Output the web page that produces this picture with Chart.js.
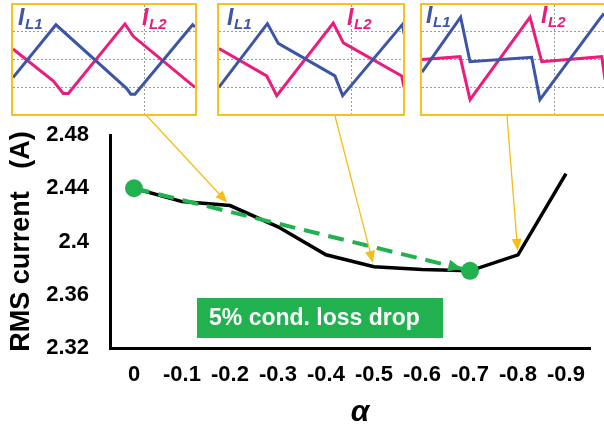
<!DOCTYPE html>
<html>
<head>
<meta charset="utf-8">
<script src="https://cdn.jsdelivr.net/npm/chart.js@4.4.1/dist/chart.umd.min.js"></script>
<style>
  html, body { margin: 0; padding: 0; background: #fff; overflow: hidden; }
  #wrap { position: relative; width: 604px; height: 430px; overflow: hidden; }
  #main { position: absolute; left: 0; top: 0; }
  .inset { position: absolute; top: 3px; height: 113px; box-sizing: border-box;
           border: 2px solid #f7c21d; background: #fff; }
  .inset canvas { display: block; }
</style>
</head>
<body>
<div id="wrap">
  <canvas id="main" width="604" height="430"></canvas>
  <div class="inset" style="left:11px;width:186px"><canvas id="w1" width="182" height="109"></canvas></div>
  <div class="inset" style="left:217px;width:188px"><canvas id="w2" width="184" height="109"></canvas></div>
  <div class="inset" style="left:420px;width:188px"><canvas id="w3" width="184" height="109"></canvas></div>
</div>
<script>
// RMS inductor current versus phase-shift ratio alpha
const alphaLabels = ['0', '-0.1', '-0.2', '-0.3', '-0.4', '-0.5', '-0.6', '-0.7', '-0.8', '-0.9'];
const rmsCurrent  = [2.440, 2.430, 2.427, 2.411, 2.390, 2.381, 2.379, 2.378, 2.390, 2.451];
const yTicks      = [2.32, 2.36, 2.40, 2.44, 2.48];
const dropFrom = 0;   // start of the highlighted reduction
const dropTo   = 7;   // end of the highlighted reduction
const dropText = '5% cond. loss drop';
const waveTargets = [2, 5, 8];   // alpha index illustrated by each waveform box

// Inductor current waveforms [time %, normalised current]
const wave1L1 = [[0,-0.64],[23.6,1.23],[62.5,-1.03],[64.7,-1.23],[67,-1.23],[98.7,1.23],[100,1.15]];
const wave1L2 = [[0,0.37],[22.2,-0.76],[27.6,-1.2],[30.4,-1.2],[61.5,1.26],[66.1,0.82],[100,-0.99]];
const wave2L1 = [[0,-0.98],[26.3,1.27],[32.2,0.57],[63,-0.58],[67.2,-1.28],[99.8,1.25],[100.5,0.92]];
const wave2L2 = [[0,0.39],[25.9,-0.58],[31.4,-1.28],[62.1,1.29],[67.6,0.59],[99.3,-0.58],[100.5,-0.98]];
const wave3L1 = [[0,-0.45],[21,1.5],[26.1,-0.08],[59.6,0.08],[64.1,-1.42],[96.7,1.45],[98.9,1.63]];
const wave3L2 = [[0,0.0],[20.7,0.1],[26.1,-1.42],[58.7,1.5],[65.1,-0.08],[97.7,0.1],[99.5,-0.72]];
const waveGridT = [72];
const waveGridI = [-1, 0, 1];

const FONT = '"Liberation Sans", Arial, Helvetica, sans-serif';
const GREEN = '#21b14f';
const YELLOW = '#f6bd16';
const BLUE = '#3c55a5';
const PINK = '#ea1c7c';

function arrowHead(ctx, tip, dir, len, half, color) {
  const bx = tip.x - dir.x * len, by = tip.y - dir.y * len;
  ctx.beginPath();
  ctx.moveTo(tip.x, tip.y);
  ctx.lineTo(bx - dir.y * half, by + dir.x * half);
  ctx.lineTo(bx + dir.y * half, by - dir.x * half);
  ctx.closePath();
  ctx.fillStyle = color;
  ctx.fill();
}

function unit(a, b) {
  const dx = b.x - a.x, dy = b.y - a.y, d = Math.hypot(dx, dy);
  return { x: dx / d, y: dy / d };
}

// callouts: waveform pointers, reduction arrow, label box, x-axis symbol
const callouts = {
  id: 'callouts',
  afterDatasetsDraw(chart) {
    const { ctx, chartArea } = chart;
    const xs = chart.scales.x, ys = chart.scales.y;
    const pt = i => ({ x: xs.getPixelForValue(i), y: ys.getPixelForValue(rmsCurrent[i]) });
    ctx.save();

    // arrowhead of the dashed reduction line
    const a = pt(dropFrom), b = pt(dropTo);
    const d = unit(a, b);
    arrowHead(ctx, { x: b.x - d.x * 8, y: b.y - d.y * 8 }, d, 14, 6, GREEN);

    // pointers from the waveform boxes
    const starts = [{ x: 147, y: 116 }, { x: 335, y: 116 }, { x: 507, y: 116 }];
    waveTargets.forEach((idx, k) => {
      const s = starts[k], p = pt(idx);
      const u = unit(s, p);
      const tip = { x: p.x - u.x * 4, y: p.y - u.y * 4 };
      ctx.strokeStyle = YELLOW;
      ctx.lineWidth = 1.3;
      ctx.beginPath();
      ctx.moveTo(s.x, s.y);
      ctx.lineTo(tip.x - u.x * 8, tip.y - u.y * 8);
      ctx.stroke();
      arrowHead(ctx, tip, u, 12, 5, YELLOW);
    });

    // reduction label box
    const bx = 197, by = 298, bw = 246, bh = 40;
    ctx.fillStyle = GREEN;
    ctx.fillRect(bx, by, bw, bh);
    ctx.fillStyle = '#fff';
    ctx.font = 'bold 23px ' + FONT;
    ctx.textAlign = 'left';
    ctx.textBaseline = 'middle';
    ctx.fillText(dropText, bx + 12, by + bh / 2 + 1);

    // x-axis symbol
    ctx.fillStyle = '#000';
    ctx.font = 'italic bold 30px ' + FONT;
    ctx.textAlign = 'center';
    ctx.fillText('α', (chartArea.left + chartArea.right) / 2 + 10, 413);
    ctx.restore();
  }
};

new Chart(document.getElementById('main'), {
  type: 'line',
  data: {
    labels: alphaLabels,
    datasets: [
      {
        data: rmsCurrent.map((v, i) => (i === dropFrom || i === dropTo) ? v : null),
        borderColor: GREEN,
        borderWidth: 4,
        borderDash: [16, 9],
        spanGaps: true,
        pointRadius: 9,
        pointBackgroundColor: GREEN,
        pointBorderWidth: 0,
        tension: 0
      },
      {
        data: rmsCurrent,
        borderColor: '#000',
        borderWidth: 3.5,
        pointRadius: 0,
        tension: 0
      }
    ]
  },
  options: {
    responsive: false,
    animation: false,
    events: [],
    layout: { padding: { left: 0, right: 14, top: 135, bottom: 0 } },
    plugins: { legend: { display: false }, tooltip: { enabled: false } },
    scales: {
      x: {
        type: 'category',
        offset: true,
        grid: { display: false, drawTicks: false },
        border: { display: true, color: '#000', width: 3 },
        ticks: { color: '#000', font: { family: FONT, size: 22, weight: 'bold' },
                 padding: 14, autoSkip: false, maxRotation: 0 },
        afterFit: s => { s.height = 82; }
      },
      y: {
        min: 2.32,
        max: 2.48,
        grid: { display: false, drawTicks: false },
        border: { display: true, color: '#000', width: 3 },
        afterBuildTicks: s => { s.ticks = yTicks.map(v => ({ value: v })); },
        ticks: { color: '#000', font: { family: FONT, size: 22, weight: 'bold' },
                 padding: 21, callback: v => String(+v.toFixed(2)) },
        title: { display: true, text: 'RMS current   (A)', color: '#000',
                 font: { family: FONT, size: 27, weight: 'bold' }, padding: { top: 5, bottom: 0 } },
        afterFit: s => { s.width = 110; }
      }
    }
  },
  plugins: [callouts]
});

// waveform boxes
function waveChart(id, l1, l2, labelX, baseY) {
  const tag = {
    id: 'tag',
    afterDraw(chart) {
      const ctx = chart.ctx;
      ctx.save();
      ctx.textBaseline = 'alphabetic';
      ctx.textAlign = 'left';
      [[labelX[0], BLUE, 'L1'], [labelX[1], PINK, 'L2']].forEach(([x, c, sub]) => {
        ctx.fillStyle = c;
        ctx.font = 'italic bold 23px ' + FONT;
        ctx.fillText('I', x, baseY);
        ctx.font = 'italic bold 15px ' + FONT;
        ctx.fillText(sub, x + 7, baseY + 4);
      });
      ctx.restore();
    }
  };
  const line = (pts, color) => ({
    data: pts.map(([t, v]) => ({ x: t, y: v })),
    borderColor: color, borderWidth: 3, pointRadius: 0, tension: 0
  });
  new Chart(document.getElementById(id), {
    type: 'line',
    data: { datasets: [line(l1, BLUE), line(l2, PINK)] },
    options: {
      responsive: false,
      animation: false,
      events: [],
      layout: { padding: 0 },
      plugins: { legend: { display: false }, tooltip: { enabled: false } },
      scales: {
        x: {
          type: 'linear', min: 0, max: 100,
          afterBuildTicks: s => { s.ticks = waveGridT.map(v => ({ value: v })); },
          ticks: { display: false },
          grid: { color: '#9c9c9c', lineWidth: 1, drawTicks: false },
          border: { display: false, dash: [2, 2] },
          afterFit: s => { s.height = 0; }
        },
        y: {
          min: -1.93, max: 1.93,
          afterBuildTicks: s => { s.ticks = waveGridI.map(v => ({ value: v })); },
          ticks: { display: false },
          grid: { color: '#9c9c9c', lineWidth: 1, drawTicks: false },
          border: { display: false, dash: [2, 2] },
          afterFit: s => { s.width = 0; }
        }
      }
    },
    plugins: [tag]
  });
}

waveChart('w1', wave1L1, wave1L2, [5, 129], 20);
waveChart('w2', wave2L1, wave2L2, [8, 128], 20);
waveChart('w3', wave3L1, wave3L2, [4, 119], 18);
</script>
</body>
</html>
